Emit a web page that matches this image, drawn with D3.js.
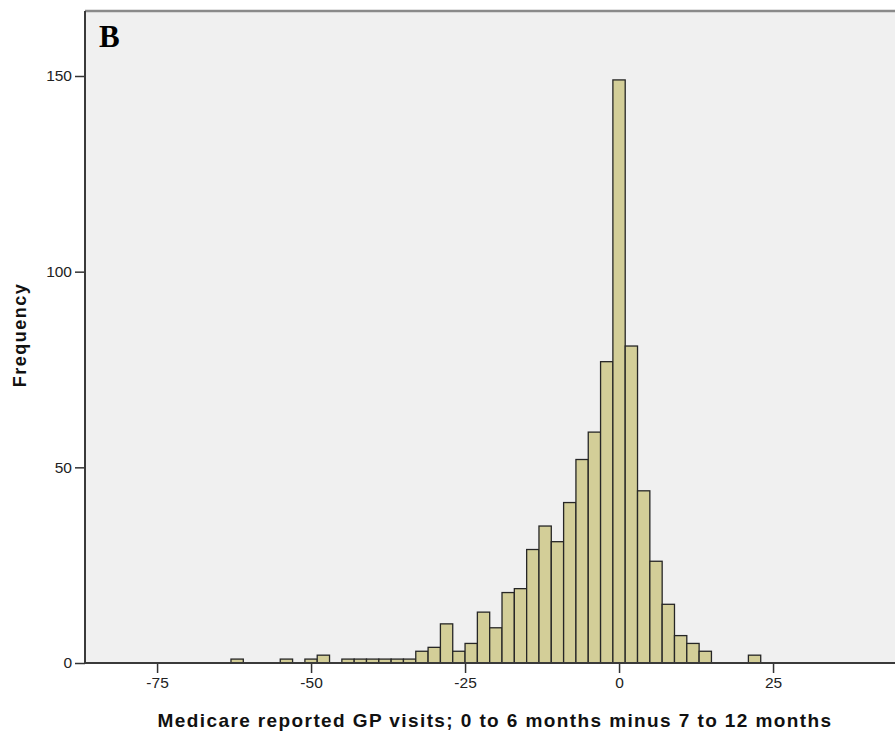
<!DOCTYPE html>
<html>
<head>
<meta charset="utf-8">
<script src="https://cdn.jsdelivr.net/npm/d3@7"></script>
<style>
  body { margin: 0; background: #fff; }
  svg { display: block; }
</style>
</head>
<body>
<div id="chart"></div>
<script>
// bin centres (bin width 2) and counts
const binCenters = [-62, -60, -58, -56, -54, -52, -50, -48, -46, -44, -42, -40, -38, -36, -34,
  -32, -30, -28, -26, -24, -22, -20, -18, -16, -14, -12, -10, -8, -6, -4, -2,
  0, 2, 4, 6, 8, 10, 12, 14, 16, 18, 20, 22];
const counts = [1, 0, 0, 0, 1, 0, 1, 2, 0, 1, 1, 1, 1, 1, 1,
  3, 4, 10, 3, 5, 13, 9, 18, 19, 29, 35, 31, 41, 52, 59, 77,
  149, 81, 44, 26, 15, 7, 5, 3, 0, 0, 0, 2];
const xTicks = [-75, -50, -25, 0, 25];
const yTicks = [0, 50, 100, 150];
const binWidth = 2;

const width = 895, height = 735;
const plot = { left: 85, right: 895, top: 11, bottom: 663 };
const sans = "'Liberation Sans', Arial, sans-serif";

const svg = d3.select("#chart").append("svg")
  .attr("width", width)
  .attr("height", height);

const xScale = d3.scaleLinear()
  .domain([-86.7, 44.8])
  .range([plot.left, plot.right]);
const yScale = d3.scaleLinear()
  .domain([0, 150])
  .range([plot.bottom, 76]);

// plot background
svg.append("rect")
  .attr("x", plot.left)
  .attr("y", plot.top)
  .attr("width", plot.right - plot.left)
  .attr("height", plot.bottom - plot.top)
  .attr("fill", "#f0f0f0");

const data = binCenters.map((c, i) => ({ center: c, count: counts[i] }))
  .filter((d) => d.count > 0);

// bars
svg.append("g")
  .selectAll("rect")
  .data(data)
  .join("rect")
  .attr("x", (d) => xScale(d.center - binWidth / 2))
  .attr("y", (d) => yScale(d.count))
  .attr("width", (d) => xScale(d.center + binWidth / 2) - xScale(d.center - binWidth / 2))
  .attr("height", (d) => yScale(0) - yScale(d.count))
  .attr("fill", "#d3ce98")
  .attr("stroke", "#262626")
  .attr("stroke-width", 1.3);

// top border
svg.append("line")
  .attr("x1", plot.left).attr("x2", plot.right)
  .attr("y1", plot.top).attr("y2", plot.top)
  .attr("stroke", "#8a8a8a")
  .attr("stroke-width", 2.5);

// axes (plain hyphen for negatives, like the original)
const fmt = (d) => String(d);
const xAxis = svg.append("g")
  .attr("transform", `translate(0,${plot.bottom})`)
  .call(d3.axisBottom(xScale).tickValues(xTicks).tickFormat(fmt)
    .tickSize(10).tickSizeOuter(0).tickPadding(4));
const yAxis = svg.append("g")
  .attr("transform", `translate(${plot.left},0)`)
  .call(d3.axisLeft(yScale).tickValues(yTicks).tickFormat(fmt)
    .tickSize(10).tickSizeOuter(0).tickPadding(3));

[xAxis, yAxis].forEach((ax) => {
  ax.attr("font-size", null).attr("font-family", null);
  ax.select(".domain").remove();
  ax.selectAll(".tick line").attr("stroke", "#333").attr("stroke-width", 1.5);
  ax.selectAll(".tick text")
    .attr("fill", "#222")
    .style("font-family", sans)
    .style("font-size", "15.5px");
});

// axis lines
svg.append("line")
  .attr("x1", plot.left).attr("x2", plot.right)
  .attr("y1", plot.bottom).attr("y2", plot.bottom)
  .attr("stroke", "#3a3a3a")
  .attr("stroke-width", 2);
svg.append("line")
  .attr("x1", plot.left).attr("x2", plot.left)
  .attr("y1", plot.top).attr("y2", plot.bottom)
  .attr("stroke", "#3a3a3a")
  .attr("stroke-width", 2);

// axis titles
svg.append("text")
  .attr("x", 495)
  .attr("y", 727)
  .attr("text-anchor", "middle")
  .style("font-family", sans)
  .style("font-size", "19px")
  .style("font-weight", "bold")
  .style("letter-spacing", "1.4px")
  .attr("fill", "#111")
  .text("Medicare reported GP visits; 0 to 6 months minus 7 to 12 months");

svg.append("text")
  .attr("transform", "translate(26,335) rotate(-90)")
  .attr("text-anchor", "middle")
  .style("font-family", sans)
  .style("font-size", "18px")
  .style("font-weight", "bold")
  .style("letter-spacing", "1.5px")
  .attr("fill", "#111")
  .text("Frequency");

// panel letter
svg.append("text")
  .attr("x", 99)
  .attr("y", 46.5)
  .style("font-family", "'Liberation Serif', 'Times New Roman', serif")
  .style("font-size", "31px")
  .style("font-weight", "bold")
  .attr("fill", "#000")
  .text("B");
</script>
</body>
</html>
